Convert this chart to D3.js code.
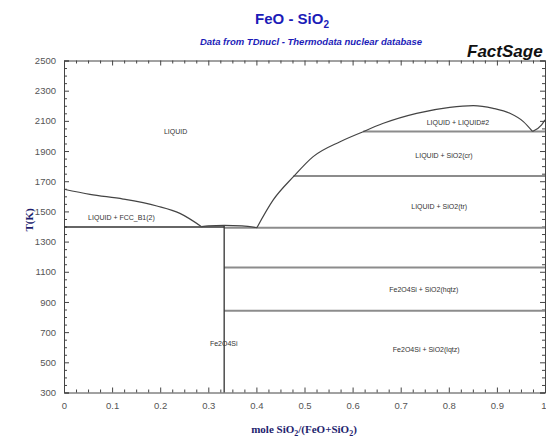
<!DOCTYPE html>
<html><head><meta charset="utf-8">
<script src="https://cdn.jsdelivr.net/npm/d3@7"></script>
<style>body{margin:0;background:#fff}svg{display:block}</style>
</head><body>
<svg id="chart" width="546" height="440"></svg>
<script>
// Axis ticks
const xTicks = [0, 0.1, 0.2, 0.3, 0.4, 0.5, 0.6, 0.7, 0.8, 0.9, 1];
const yTicks = [300, 500, 700, 900, 1100, 1300, 1500, 1700, 1900, 2100, 2300, 2500];

// Phase boundaries as [mole fraction SiO2, T(K)]
const liquidusFeO = [[0, 1647], [0.054, 1613], [0.123, 1582], [0.193, 1536], [0.241, 1487], [0.286, 1399]];
const liquidusFayalite = [[0.286, 1399], [0.30, 1404], [0.333, 1407], [0.37, 1404], [0.401, 1392]];
const liquidusSiO2 = [[0.401, 1392], [0.435, 1576], [0.477, 1730], [0.518, 1863], [0.574, 1962], [0.622, 2028]];
const gapDome = [[0.622, 2028], [0.664, 2084], [0.733, 2150], [0.802, 2190], [0.851, 2201], [0.8925, 2183], [0.927, 2150], [0.955, 2095], [0.974, 2030]];
const liquidusCristobalite = [[0.974, 2030], [0.993, 2074], [1, 2107]];

// Isotherms: [x from, x to, T]
const eutecticFeO = [[0, 0.333, 1396]];
const isothermsSiO2 = [[0.333, 1, 1391], [0.477, 1, 1735], [0.622, 1, 2030], [0.333, 1, 1128], [0.333, 1, 842]];
// Fe2SiO4 line compound: [x, T bottom, T top]
const compound = [[0.333, 300, 1407]];

// Phase field labels: [text, x, T]
const fieldLabels = [
  ["LIQUID", 0.232, 2028],
  ["LIQUID + FCC_B1(2)", 0.1195, 1458],
  ["LIQUID + LIQUID#2", 0.819, 2084],
  ["LIQUID + SiO2(cr)", 0.79, 1867],
  ["LIQUID + SiO2(tr)", 0.78, 1530],
  ["Fe2O4Si + SiO2(hqtz)", 0.748, 979],
  ["Fe2O4Si + SiO2(lqtz)", 0.753, 582],
  ["Fe2O4Si", 0.332, 619]
];

const svg = d3.select("#chart");
const x = d3.scaleLinear().domain([0, 1]).range([64, 545]);
const y = d3.scaleLinear().domain([300, 2500]).range([392.5, 60.5]);

const axisColor = "#444";
const minorX = d3.range(0, 1.0001, 0.025).filter(v => Math.abs(v * 10 - Math.round(v * 10)) > 1e-6);
const minorY = d3.range(300, 2501, 50).filter(v => (v - 300) % 200 !== 0);

function styleAxis(g) {
  g.select(".domain").attr("stroke", axisColor).attr("stroke-width", 1);
  g.selectAll(".tick line").attr("stroke", axisColor);
  g.selectAll(".tick text").attr("fill", "#555").attr("font-family", "Arial, 'Liberation Sans', sans-serif").attr("font-size", 9.5);
}

// bottom axis
const bottom = svg.append("g").attr("transform", `translate(0,${y(300)})`)
  .call(d3.axisBottom(x).tickValues(xTicks).tickSize(-5).tickPadding(10).tickFormat(d3.format("")))
  .call(styleAxis);
// last label sits against the right edge of the page
bottom.selectAll(".tick text").filter(d => d === 1).attr("text-anchor", "end").attr("dx", 1);
svg.append("g").attr("transform", `translate(0,${y(300)})`)
  .call(d3.axisBottom(x).tickValues(minorX).tickSize(-3).tickFormat(""))
  .call(styleAxis).select(".domain").remove();
// top axis
svg.append("g").attr("transform", `translate(0,${y(2500)})`)
  .call(d3.axisTop(x).tickValues(xTicks).tickSize(-5).tickFormat(""))
  .call(styleAxis);
svg.append("g").attr("transform", `translate(0,${y(2500)})`)
  .call(d3.axisTop(x).tickValues(minorX).tickSize(-3).tickFormat(""))
  .call(styleAxis).select(".domain").remove();
// left axis
svg.append("g").attr("transform", `translate(${x(0)},0)`)
  .call(d3.axisLeft(y).tickValues(yTicks).tickSize(-5).tickPadding(8).tickFormat(d3.format("")))
  .call(styleAxis);
svg.append("g").attr("transform", `translate(${x(0)},0)`)
  .call(d3.axisLeft(y).tickValues(minorY).tickSize(-3).tickFormat(""))
  .call(styleAxis).select(".domain").remove();
// right axis
svg.append("g").attr("transform", `translate(${x(1)},0)`)
  .call(d3.axisRight(y).tickValues(yTicks).tickSize(-5).tickFormat(""))
  .call(styleAxis);
svg.append("g").attr("transform", `translate(${x(1)},0)`)
  .call(d3.axisRight(y).tickValues(minorY).tickSize(-3).tickFormat(""))
  .call(styleAxis).select(".domain").remove();

const plot = svg.append("g");
const line = d3.line().x(d => x(d[0])).y(d => y(d[1]));

// isotherms on the silica side
plot.selectAll("line.iso").data(isothermsSiO2).join("line")
  .attr("class", "iso")
  .attr("x1", d => x(d[0])).attr("x2", d => x(d[1]))
  .attr("y1", d => y(d[2])).attr("y2", d => y(d[2]))
  .attr("stroke", "#8c8c8c").attr("stroke-width", 2);

plot.selectAll("line.eut").data(eutecticFeO).join("line")
  .attr("class", "eut")
  .attr("x1", d => x(d[0])).attr("x2", d => x(d[1]))
  .attr("y1", d => y(d[2])).attr("y2", d => y(d[2]))
  .attr("stroke", "#333").attr("stroke-width", 1.5);

plot.selectAll("line.cmp").data(compound).join("line")
  .attr("class", "cmp")
  .attr("x1", d => x(d[0])).attr("x2", d => x(d[0]))
  .attr("y1", d => y(d[1])).attr("y2", d => y(d[2]))
  .attr("stroke", "#333").attr("stroke-width", 1.3);

[liquidusFeO, liquidusFayalite, liquidusSiO2, gapDome, liquidusCristobalite].forEach(pts => {
  plot.append("path").datum(pts)
    .attr("d", line.curve(d3.curveMonotoneX))
    .attr("fill", "none").attr("stroke", "#444").attr("stroke-width", 1.2);
});

// field labels
svg.append("g").selectAll("text").data(fieldLabels).join("text")
  .attr("x", d => x(d[1])).attr("y", d => y(d[2]))
  .attr("text-anchor", "middle").attr("dominant-baseline", "middle")
  .attr("font-family", "Arial, 'Liberation Sans', sans-serif").attr("font-size", 7)
  .attr("fill", "#333")
  .text(d => d[0]);

// titles
const title = svg.append("text").attr("x", 292).attr("y", 24).attr("text-anchor", "middle")
  .attr("font-family", "Arial, 'Liberation Sans', sans-serif").attr("font-weight", "bold")
  .attr("font-size", 15).attr("fill", "#1c1cb8");
title.append("tspan").text("FeO - SiO");
title.append("tspan").attr("font-size", 10).attr("dy", 4).text("2");

svg.append("text").attr("x", 311).attr("y", 45).attr("text-anchor", "middle")
  .attr("font-family", "Arial, 'Liberation Sans', sans-serif").attr("font-weight", "bold")
  .attr("font-style", "italic").attr("font-size", 9.5).attr("fill", "#1c1cb8")
  .text("Data from TDnucl - Thermodata nuclear database");

svg.append("text").attr("x", 467).attr("y", 57)
  .attr("font-family", "Arial, 'Liberation Sans', sans-serif").attr("font-weight", "bold")
  .attr("font-style", "italic").attr("font-size", 17).attr("fill", "#111")
  .text("FactSage");

// axis titles
const xt = svg.append("text").attr("x", 304).attr("y", 433).attr("text-anchor", "middle")
  .attr("font-family", "'Liberation Serif', 'DejaVu Serif', serif").attr("font-weight", "bold")
  .attr("font-size", 11).attr("fill", "#1e1e6e");
xt.append("tspan").text("mole SiO");
xt.append("tspan").attr("font-size", 8).attr("dy", 3).text("2");
xt.append("tspan").attr("dy", -3).text("/(FeO+SiO");
xt.append("tspan").attr("font-size", 8).attr("dy", 3).text("2");
xt.append("tspan").attr("dy", -3).text(")");

svg.append("text").attr("transform", "translate(30,220) rotate(-90)").attr("text-anchor", "middle")
  .attr("dominant-baseline", "middle")
  .attr("font-family", "'Liberation Serif', 'DejaVu Serif', serif").attr("font-weight", "bold")
  .attr("font-size", 11).attr("fill", "#1e1e6e")
  .text("T(K)");
</script>
</body></html>
